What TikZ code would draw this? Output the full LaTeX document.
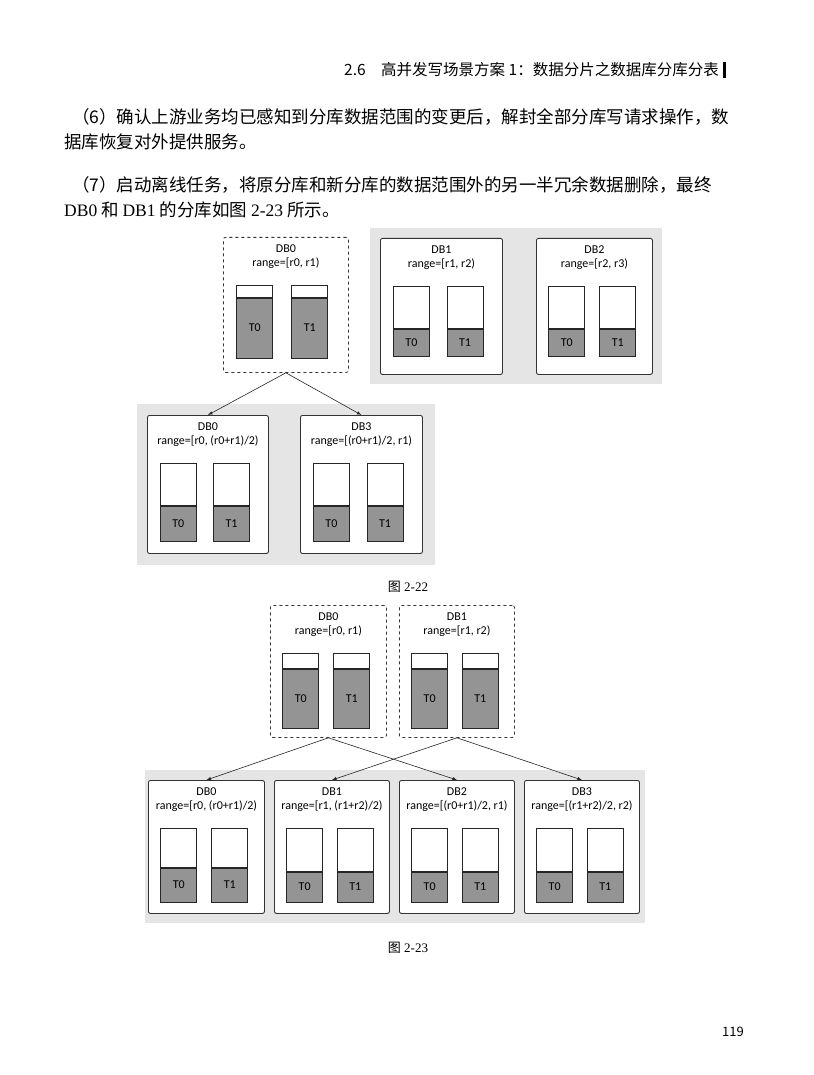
\documentclass[tikz,border=0pt]{standalone}
\usepackage{fontspec}
\setmainfont{Liberation Serif}
\newfontfamily\cjk{Noto Sans CJK SC}
\newfontfamily\lbl{Carlito}
\usetikzlibrary{arrows,positioning}
\tikzset{
  dbsolid/.style={draw=black!80, fill=white, rounded corners=2pt, line width=0.9pt},
  dbdash/.style={draw=black!80, fill=white, rounded corners=2pt, dashed, line width=0.8pt},
  dblabel/.style={font=\lbl\fontsize{12}{13.5}\selectfont, align=center, inner sep=0pt},
  bggray/.style={fill=black!10, draw=none},
  tbl/.style={draw=black!85, line width=0.8pt},
  tblfill/.style={fill=black!42},
  tbltext/.style={font=\lbl\fontsize{12}{13}\selectfont},
  move/.style={-latex, line width=0.6pt, black!85},
  bodytext/.style={anchor=west, inner sep=0pt, font=\cjk\fontsize{17.5}{20}\selectfont},
}
% name, x, y, w, h, style, title, table height, split
\newcommand{\dbbox}[9]{%
  \node[#6, anchor=north west, minimum width=#4pt, minimum height=#5pt, inner sep=0pt] (#1) at (#2,#3) {};
  \node[dblabel, below=8pt of #1.north] {#7};
  \foreach \tx/\tn in {0.11/T0,0.55/T1}{
    \fill[tblfill] ({#2+\tx*#4},{#3+48+#9}) rectangle ({#2+\tx*#4+36},{#3+48+#8});
    \draw[tbl] ({#2+\tx*#4},{#3+48}) rectangle ({#2+\tx*#4+36},{#3+48+#8});
    \draw[tbl, line width=1.3pt] ({#2+\tx*#4},{#3+48+#9}) -- ({#2+\tx*#4+36},{#3+48+#9});
    \node[tbltext] at ({#2+\tx*#4+18},{#3+48+(#9+#8)/2}) {\tn};
  }
}
\begin{document}
\begin{tikzpicture}[x=1pt,y=-1pt]
\useasboundingbox[fill=white] (0,0) rectangle (813,1075);

% header
\node[anchor=east, inner sep=0pt, font=\cjk\fontsize{15.5}{17}\selectfont] (head) at (719,70) {2.6\quad 高并发写场景方案 1：数据分片之数据库分库分表};
\fill (723,62) rectangle (725.5,78);

% text
\node[bodytext] (p6a) at (72,117) {（6）确认上游业务均已感知到分库数据范围的变更后，解封全部分库写请求操作，数};
\node[bodytext] (p6b) at (64,142) {据库恢复对外提供服务。};
\node[bodytext] (p7a) at (72,185) {（7）启动离线任务，将原分库和新分库的数据范围外的另一半冗余数据删除，最终};
\node[bodytext] (p7b) at (64,210) {{\rmfamily DB0} 和 {\rmfamily DB1} 的分库如图 {\rmfamily 2-23} 所示。};

% figure 2-22
\fill[bggray] (370,228) rectangle (662,384);
\fill[bggray] (137,404) rectangle (435,565);
\dbbox{olda}{223}{237}{125}{135}{dbdash}{DB0\\range=[r0, r1)}{73}{13}
\dbbox{oldb}{380}{238}{122}{136}{dbsolid}{DB1\\range=[r1, r2)}{70}{43}
\dbbox{oldc}{536}{238}{116}{136}{dbsolid}{DB2\\range=[r2, r3)}{70}{43}
\dbbox{newa}{147}{415}{121}{138}{dbsolid}{DB0\\range=[r0, (r0+r1)/2)}{78}{43}
\dbbox{newd}{300}{415}{122}{138}{dbsolid}{DB3\\range=[(r0+r1)/2, r1)}{78}{43}
\draw[move] (olda.south) -- (newa.north);
\draw[move] (olda.south) -- (newd.north);
\node[inner sep=0pt, font=\fontsize{13}{15}\selectfont] (cap22) at (408,587) {{\cjk 图} 2-22};

% figure 2-23
\fill[bggray] (145,770) rectangle (645,923);
\dbbox{srca}{270}{605}{116}{132}{dbdash}{DB0\\range=[r0, r1)}{75}{16}
\dbbox{srcb}{399}{605}{115}{132}{dbdash}{DB1\\range=[r1, r2)}{75}{16}
\dbbox{dsta}{148}{780}{116}{133}{dbsolid}{DB0\\range=[r0, (r0+r1)/2)}{74}{40}
\dbbox{dstb}{274}{780}{115}{133}{dbsolid}{DB1\\range=[r1, (r1+r2)/2)}{74}{44}
\dbbox{dstc}{399}{780}{115}{133}{dbsolid}{DB2\\range=[(r0+r1)/2, r1)}{74}{44}
\dbbox{dstd}{524}{780}{115}{133}{dbsolid}{DB3\\range=[(r1+r2)/2, r2)}{74}{44}
\draw[move] (srca.south) -- (dsta.north);
\draw[move] (srca.south) -- (dstc.north);
\draw[move] (srcb.south) -- (dstb.north);
\draw[move] (srcb.south) -- (dstd.north);
\node[inner sep=0pt, font=\fontsize{13}{15}\selectfont] (cap23) at (408,948) {{\cjk 图} 2-23};

% page number
\node[inner sep=0pt, font=\cjk\fontsize{13}{15}\selectfont] (pnum) at (733,1032) {119};
\end{tikzpicture}
\end{document}
